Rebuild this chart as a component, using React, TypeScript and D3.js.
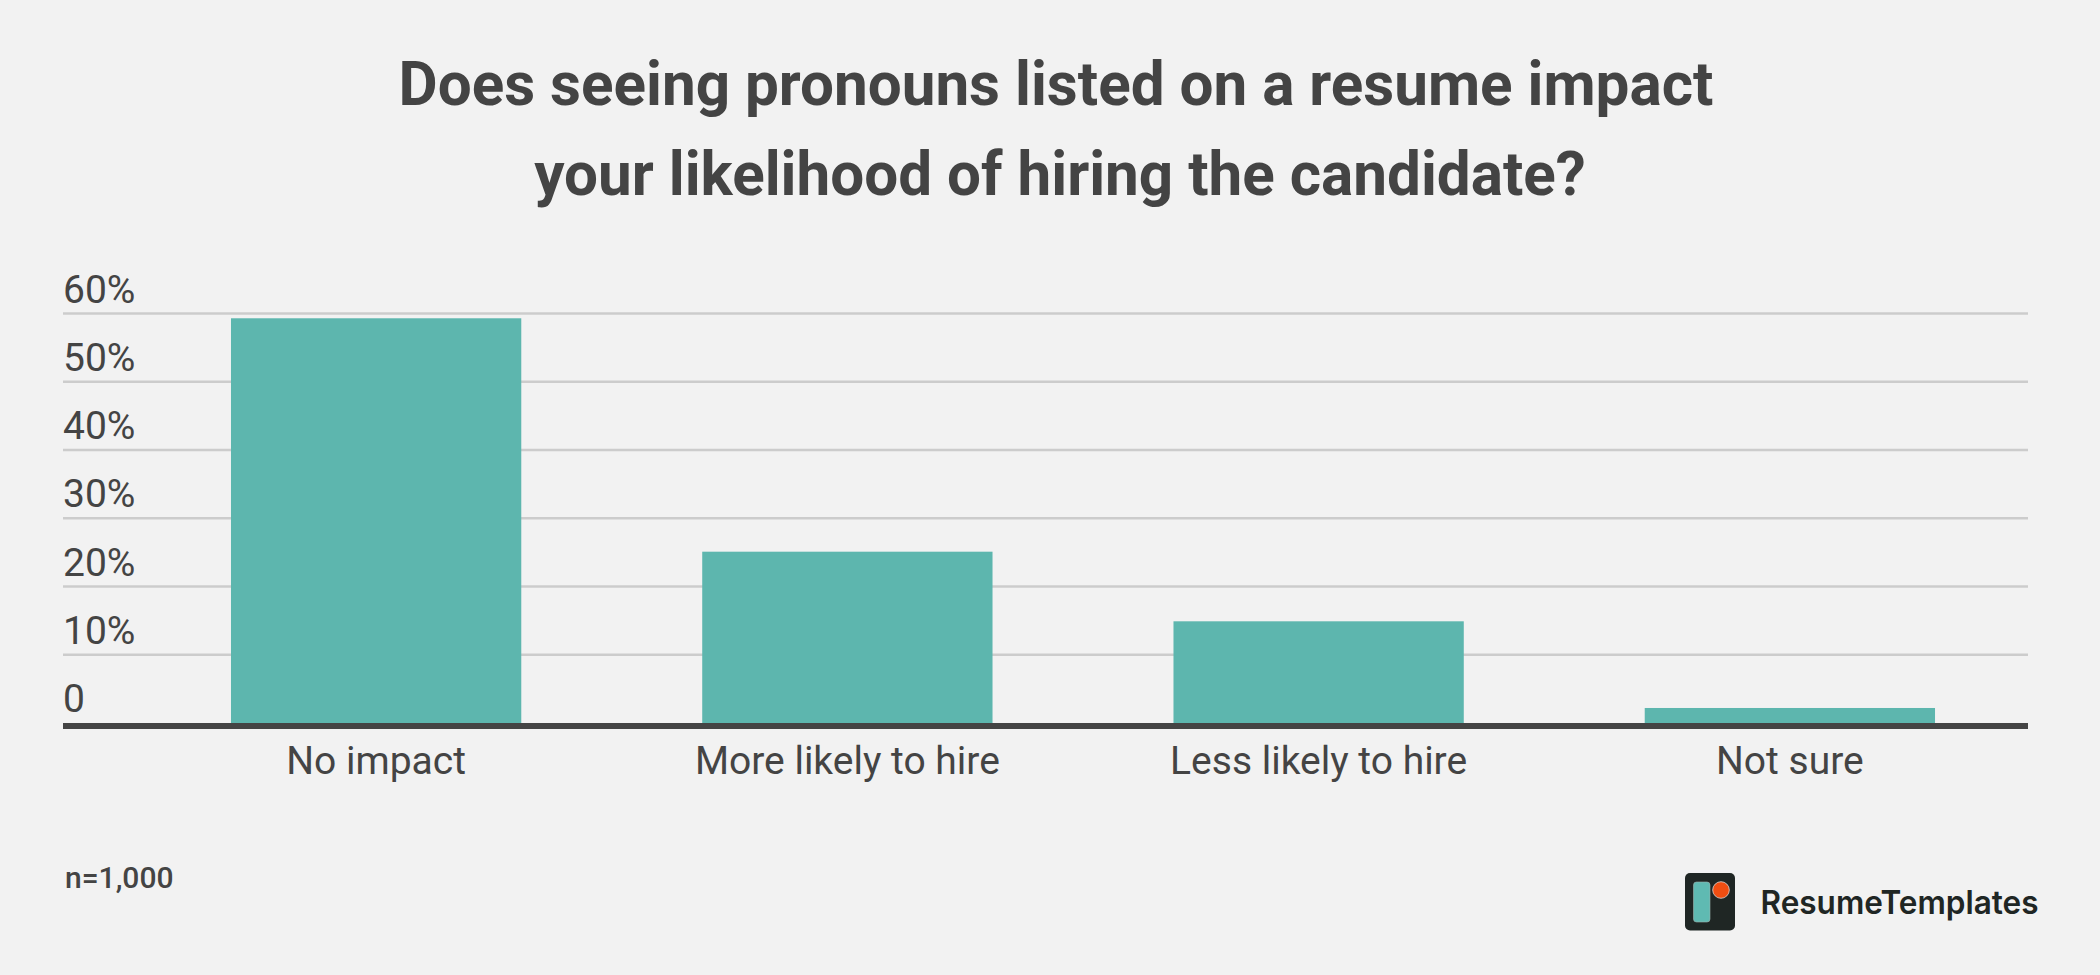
import React from "react";
import * as d3 from "d3";

const categories = ["No impact", "More likely to hire", "Less likely to hire", "Not sure"];
const values = [59.3, 25.1, 14.9, 2.2];
const yTicks = [0, 10, 20, 30, 40, 50, 60];
const titleLines = [
  "Does seeing pronouns listed on a resume impact",
  "your likelihood of hiring the candidate?",
];
const sampleNote = "n=1,000";
const brand = "ResumeTemplates";

const W = 2100;
const H = 975;

export default function App() {
  const x = d3
    .scaleBand<string>()
    .domain(categories)
    .range([140.5, 2025.5])
    .paddingInner(0.384)
    .paddingOuter(0.192);
  const y = d3.scaleLinear().domain([0, 60]).range([723, 313.5]);
  const gridLeft = 63;
  const gridRight = 2028;
  const textColor = "#444444";

  return (
    <svg
      width={W}
      height={H}
      style={{ position: "absolute", left: 0, top: 0, display: "block" }}
      fontFamily="Roboto, 'Noto Sans', sans-serif"
    >
      <rect x={0} y={0} width={W} height={H} fill="#f2f2f2" />
      {titleLines.map((t, i) => (
        <text
          key={i}
          x={i === 0 ? 1056 : 1060}
          y={105 + i * 90}
          textAnchor="middle"
          fontSize={60.2}
          fontWeight={700}
          fill={textColor}
        >
          {t}
        </text>
      ))}
      {yTicks.map((t) =>
        t === 0 ? null : (
          <line
            key={"g" + t}
            x1={gridLeft}
            x2={gridRight}
            y1={y(t)}
            y2={y(t)}
            stroke="#cccccc"
            strokeWidth={2.5}
          />
        )
      )}
      {yTicks.map((t) => (
        <text
          key={"t" + t}
          x={gridLeft}
          y={y(t) - 11}
          fontSize={39}
          fill={textColor}
        >
          {t === 0 ? "0" : `${t}%`}
        </text>
      ))}
      {categories.map((c, i) => (
        <rect
          key={c}
          x={x(c)}
          y={y(values[i])}
          width={x.bandwidth()}
          height={y(0) - y(values[i])}
          fill="#5db6ae"
        />
      ))}
      <rect x={gridLeft} y={y(0)} width={gridRight - gridLeft} height={6} fill="#444444" />
      {categories.map((c) => (
        <text
          key={"c" + c}
          x={(x(c) as number) + x.bandwidth() / 2}
          y={774}
          textAnchor="middle"
          fontSize={39}
          fill={textColor}
        >
          {c}
        </text>
      ))}
      <text x={65} y={888} fontSize={30} fontWeight={500} fill={textColor}>
        {sampleNote}
      </text>
      <g>
        <rect x={1685} y={873} width={50} height={57.5} rx={5} fill="#1f2624" />
        <rect x={1693.5} y={882} width={16.5} height={40} rx={3} fill="#5fbab2" stroke="#9fb5b0" strokeWidth={0.6} />
        <circle cx={1721} cy={890} r={8.3} fill="#f04e12" stroke="#e0d6d0" strokeWidth={0.8} />
        <text
          x={1760.5}
          y={914}
          fontFamily="Inter, 'Noto Sans', sans-serif"
          fontSize={33}
          fontWeight={600}
          fill="#1f2624"
          textLength={278}
          lengthAdjust="spacingAndGlyphs"
        >
          {brand}
        </text>
      </g>
    </svg>
  );
}
